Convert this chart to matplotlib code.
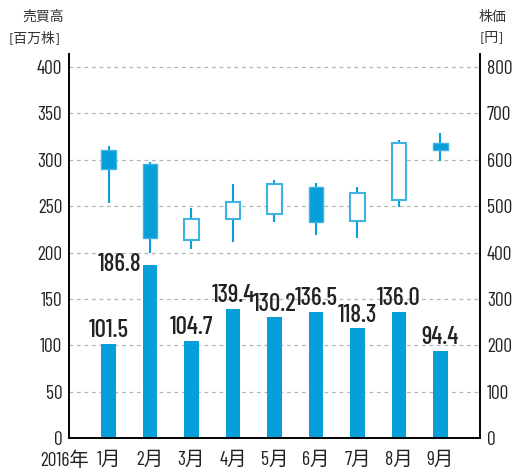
import numpy as np
import matplotlib
matplotlib.use('Agg')
import matplotlib.pyplot as plt

plt.rcParams['font.family'] = ['Barlow Condensed', 'Noto Sans CJK JP', 'DejaVu Sans']

months = ['1月', '2月', '3月', '4月', '5月', '6月', '7月', '8月', '9月']
volume = [101.5, 186.8, 104.7, 139.4, 130.2, 136.5, 118.3, 136.0, 94.4]   # 売買高 [百万株]
# 株価 [円]
open_ = [621, 591, 428, 473, 483, 542, 469, 513, 637]
high = [630, 595, 496, 548, 556, 549, 541, 642, 657]
low = [507, 400, 408, 423, 466, 438, 432, 499, 598]
close = [579, 431, 472, 510, 547, 466, 528, 636, 621]

blue = '#079fd9'
light = '#3fb3e3'

fig = plt.figure(figsize=(5.21, 4.69), dpi=100)
ax = fig.add_axes([0.133, 0.0655, 0.788, 0.819])
ax2 = ax.twinx()

x = np.arange(len(months))
ax.bar(x, volume, width=0.35, color=blue, zorder=2)
for i, v in enumerate(volume):
    if i == 1:
        ax.text(i - 0.2, v, '%.1f' % v, ha='right', va='center', fontsize=18, fontweight=500, color='#222222')
    else:
        ax.text(i, v + 2, '%.1f' % v, ha='center', va='bottom', fontsize=18, fontweight=500, color='#222222')

# ローソク足
for i in range(len(months)):
    o, h, l, c = open_[i], high[i], low[i], close[i]
    ax2.vlines(i, l, h, color=blue, lw=1.5, zorder=2)
    if c < o:
        ax2.bar(i, o - c, bottom=c, width=0.35, color=blue, edgecolor=light, lw=1, zorder=3)
    else:
        ax2.bar(i, c - o, bottom=o, width=0.35, color='white', edgecolor=light, lw=1.5, zorder=3)

ax.set_xlim(-0.945, 8.95)
ax.set_ylim(0, 413.7)
ax2.set_ylim(0, 827.4)
ax.set_yticks(np.arange(0, 401, 50))
ax2.set_yticks(np.arange(0, 801, 100))
ax.set_xticks(x)
ax.set_xticklabels(months)
ax.tick_params(axis='both', length=0, labelsize=14, pad=5, labelcolor='#222222')
ax2.tick_params(axis='y', length=0, labelsize=14, pad=5, labelcolor='#222222')
ax.tick_params(axis='x', pad=9)

ax.yaxis.grid(True, color='#b5b5b5', linestyle=(0, (3, 3)), lw=0.9, zorder=0)
ax.set_axisbelow(True)
for a in (ax, ax2):
    a.spines['top'].set_visible(False)
    for s in ('left', 'right', 'bottom'):
        a.spines[s].set_linewidth(1.2)

ax.text(-1.05, -0.0575, '2016年', transform=ax.get_xaxis_transform(), ha='center', va='center',
        fontsize=14, color='#222222')

fig.text(43 / 521, 1 - 17 / 469, '売買高', ha='center', va='center', fontsize=10, color='#333333')
fig.text(35 / 521, 1 - 38 / 469, '[百万株]', ha='center', va='center', fontsize=10, color='#333333')
fig.text(492 / 521, 1 - 17 / 469, '株価', ha='center', va='center', fontsize=10, color='#333333')
fig.text(492 / 521, 1 - 38 / 469, '[円]', ha='center', va='center', fontsize=10, color='#333333')

fig.savefig('out.png', dpi=100)
